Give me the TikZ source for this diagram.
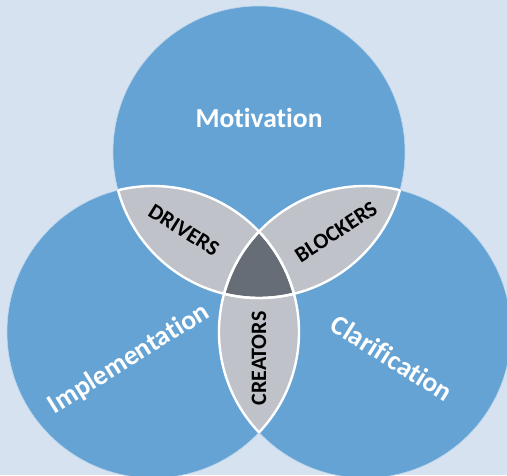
\documentclass[tikz,border=0pt]{standalone}
\usepackage{fontspec}
\setmainfont{Carlito}[Ligatures=CommonOff]
\usepackage{tikz}
\usetikzlibrary{positioning}
\definecolor{bgblue}{RGB}{214,226,240}
\definecolor{ringblue}{RGB}{101,163,212}
\definecolor{lensgray}{RGB}{191,194,201}
\definecolor{coregray}{RGB}{103,109,118}

\begin{document}
\begin{tikzpicture}
        [x=1pt,y=1pt,
        ring/.style={circle,fill=ringblue,draw=white!55!ringblue,line width=0.6pt,minimum size=292pt,inner sep=0pt},
        seam/.style={draw=white,line width=2.4pt},
        big/.style={text=white,font=\fontsize{27.5}{27.5}\selectfont\bfseries},
        small/.style={text=black,font=\fontsize{22}{22}\selectfont\bfseries}]
        \fill[bgblue] (0,0) rectangle (507,475);
        \useasboundingbox (0,0) rectangle (507,475);
        \node[ring]  (M) at (259,323) {};
        \node[ring]  (I) at (153,143) {};
        \node[ring]  (C) at (365,143) {};

        % pairwise overlaps, then the middle
        \begin{scope}
        \clip (M.center) circle (146pt);
        \fill[lensgray] (I.center) circle (146pt);
        \fill[lensgray] (C.center) circle (146pt);
        \end{scope}
        \begin{scope}
        \clip (I.center) circle (146pt);
        \fill[lensgray] (C.center) circle (146pt);
        \clip (C.center) circle (146pt);
        \fill[coregray] (M.center) circle (146pt);
        \end{scope}

        % white seams inside the overlaps
        \begin{scope}
        \clip (M.center) circle (146pt);
        \draw[seam] (I.center) circle (146pt);
        \draw[seam] (C.center) circle (146pt);
        \end{scope}
        \begin{scope}
        \clip (I.center) circle (146pt);
        \draw[seam] (M.center) circle (146pt);
        \draw[seam] (C.center) circle (146pt);
        \end{scope}
        \begin{scope}
        \clip (C.center) circle (146pt);
        \draw[seam] (M.center) circle (146pt);
        \draw[seam] (I.center) circle (146pt);
        \end{scope}

        \node[big]  (mot) at (259,357) {Motivation};
        \node[big,rotate=32]  (imp) at (129,116) {Implementation};
        \node[big,rotate=-32]  (cla) at (392,117) {Clarification};
        \node[small,rotate=-32]  (drv) at (184,245) {DRIVERS};
        \node[small,rotate=33]  (blk) at (336,243) {BLOCKERS};
        \node[small,rotate=90]  (cre) at (259,116.5) {CREATORS};
       \end{tikzpicture}
\end{document}
